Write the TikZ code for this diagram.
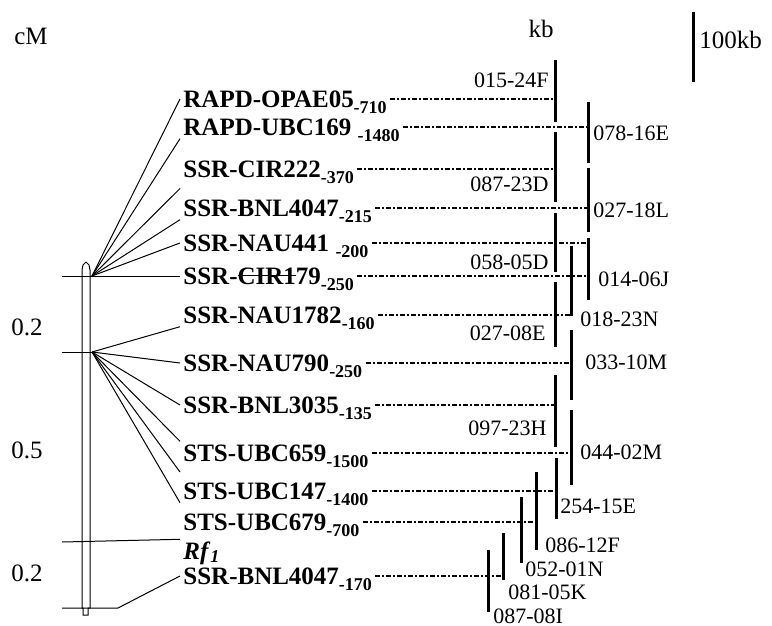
\documentclass[tikz,border=0pt]{standalone}
\usepackage{fontspec}
\setmainfont{Liberation Serif}
\usetikzlibrary{positioning,calc}

\newlength\strkw
\newcommand\bpsz[1]{\raisebox{-3pt}{\fontsize{9}{10}\selectfont\bfseries -#1}}
\newcommand\strk[1]{\settowidth\strkw{#1}\rlap{#1}\rule[4pt]{\strkw}{0.5pt}}

\tikzset{
  marker/.style={anchor=west, inner sep=1.5pt, text height=8.3pt, text depth=0pt,
    font=\fontsize{12.5}{14}\selectfont\bfseries},
  bacname/.style={anchor=west, inner sep=1pt, font=\fontsize{11}{13}\selectfont},
  scaletxt/.style={inner sep=0pt, font=\fontsize{12.5}{14}\selectfont},
  link/.style={line width=0.7pt, dash pattern=on 2.5pt off 1pt on 1pt off 1pt},
  bac/.style={line width=1.5pt},
  fan/.style={line width=0.5pt}
}

\begin{document}
\begin{tikzpicture}[x=0.5pt, y=-0.5pt]
        \useasboundingbox (0,0) rectangle (772,626);

        % Escalas
        \node[scaletxt] (cm) at (31,36) {cM};
        \node[scaletxt] (kb) at (541,29) {kb};
        \draw[line width=1.75pt] (693.5,12) coordinate (sc) -- (693.5,82);
        \node[scaletxt, anchor=west] (sclab) at (699,40) {100kb};
        \node[scaletxt] (d1) at (27,327) {0.2};
        \node[scaletxt] (d2) at (27,450) {0.5};
        \node[scaletxt] (d3) at (27,573) {0.2};

        % Cromossomo
        \draw[fan] (82,270) -- (82,608) -- (83,608) -- (83,615) -- (88,615) -- (88,608) -- (90,608) -- (90,270)
          -- (89,265) -- (86,262) -- (83,265) -- cycle;
        \coordinate (fanA) at (92,276);
        \coordinate (fanB) at (92,352);

        % Marcadores
        \node[marker] (m1) at (180,99) {RAPD-OPAE05\bpsz{710}};
        \node[marker] (m2) at (180,127) {RAPD-UBC169 \bpsz{1480}};
        \node[marker] (m3) at (180,169) {SSR-CIR222\bpsz{370}};
        \node[marker] (m4) at (180,208) {SSR-BNL4047\bpsz{215}};
        \node[marker] (m5) at (180,243) {SSR-NAU441 \bpsz{200}};
        \node[marker] (m6) at (180,276) {SSR-\strk{CIR1}79\bpsz{250}};
        \node[marker] (m7) at (180,315) {SSR-NAU1782\bpsz{160}};
        \node[marker] (m8) at (180,363) {SSR-NAU790\bpsz{250}};
        \node[marker] (m9) at (180,405) {SSR-BNL3035\bpsz{135}};
        \node[marker] (m10) at (180,453) {STS-UBC659\bpsz{1500}};
        \node[marker] (m11) at (180,491) {STS-UBC147\bpsz{1400}};
        \node[marker] (m12) at (180,522) {STS-UBC679\bpsz{700}};
        \node[marker] (rf) at (180,551) {\textit{Rf}\raisebox{-1.5pt}{\fontsize{9}{10}\selectfont\textit{1}}};
        \node[marker] (m13) at (180,576) {SSR-BNL4047\bpsz{170}};

        \draw[fan] (62,276) -- (m6.west);
        \draw[fan] (62,352) -- (fanB);
        \draw[fan] (62,542) -- (rf.north west);
        \draw[fan] (62,608) -- (118,608) -- (m13.west);
        \draw[fan] (fanA) -- (m1.west);
        \draw[fan] (fanA) -- (m2.south west);
        \draw[fan] (fanA) -- ($(m3.south west)!0.5!(m4.north west)$);
        \draw[fan] (fanA) -- (m4.south west);
        \draw[fan] (fanA) -- (m5.west);
        \draw[fan] (fanB) -- (m7.south west);
        \draw[fan] (fanB) -- (m8.west);
        \draw[fan] (fanB) -- (m9.west);
        \draw[fan] (fanB) -- (m10.north west);
        \draw[fan] (fanB) -- ($(m10.south west)!0.5!(m11.north west)$);
        \draw[fan] (fanB) -- (m11.south west);

        % BACs
        \draw[bac] (555,60) coordinate (b1) -- (555,122);
        \draw[bac] (588,102) coordinate (b2) -- (588,163);
        \draw[bac] (555,132) coordinate (b3) -- (555,202);
        \draw[bac] (588,168) coordinate (b4) -- (588,232);
        \draw[bac] (555,213) coordinate (b5) -- (555,272);
        \draw[bac] (588,238) coordinate (b6) -- (588,300);
        \draw[bac] (571,246) coordinate (b7) -- (571,316);
        \draw[bac] (555,282) coordinate (b8) -- (555,347);
        \draw[bac] (571,330) coordinate (b9) -- (571,400);
        \draw[bac] (555,375) coordinate (b10) -- (555,447);
        \draw[bac] (571,410) coordinate (b11) -- (571,485);
        \draw[bac] (556,458) coordinate (b12) -- (556,519);
        \draw[bac] (536,472) coordinate (b13) -- (536,550);
        \draw[bac] (521,497) coordinate (b14) -- (521,563);
        \draw[bac] (503,533) coordinate (b15) -- (503,580);
        \draw[bac] (488,550) coordinate (b16) -- (488,612);

        \node[bacname, anchor=east] (n1) at (551,80) {015-24F};
        \node[bacname] (n2) at (591,133) {078-16E};
        \node[bacname, anchor=east] (n3) at (551,184) {087-23D};
        \node[bacname] (n4) at (591,210) {027-18L};
        \node[bacname, anchor=east] (n5) at (551,262) {058-05D};
        \node[bacname] (n6) at (596,279) {014-06J};
        \node[bacname] (n7) at (578,319) {018-23N};
        \node[bacname, anchor=east] (n8) at (548,333) {027-08E};
        \node[bacname] (n9) at (583,362) {033-10M};
        \node[bacname, anchor=east] (n10) at (549,428) {097-23H};
        \node[bacname] (n11) at (578,452) {044-02M};
        \node[bacname] (n12) at (558,506) {254-15E};
        \node[bacname] (n13) at (543,545) {086-12F};
        \node[bacname] (n14) at (523,569) {052-01N};
        \node[bacname] (n15) at (506,592) {081-05K};
        \node[bacname] (n16) at (491,616) {087-08I};

        % Ligacoes
        \draw[link] (m1.east) -- (m1.east -| b1);
        \draw[link] (m2.east) -- (m2.east -| b2);
        \draw[link] (m3.east) -- (m3.east -| b3);
        \draw[link] (m4.east) -- (m4.east -| b4);
        \draw[link] (m5.east) -- (m5.east -| b6);
        \draw[link] (m6.east) -- (m6.east -| b6);
        \draw[link] (m7.east) -- (m7.east -| b7);
        \draw[link] (m8.east) -- (m8.east -| b9);
        \draw[link] (m9.east) -- (m9.east -| b10);
        \draw[link] (m10.east) -- (m10.east -| b11);
        \draw[link] (m11.east) -- (m11.east -| b12);
        \draw[link] (m12.east) -- (m12.east -| b13);
        \draw[link] (m13.east) -- (m13.east -| b15);

    \end{tikzpicture}
\end{document}
